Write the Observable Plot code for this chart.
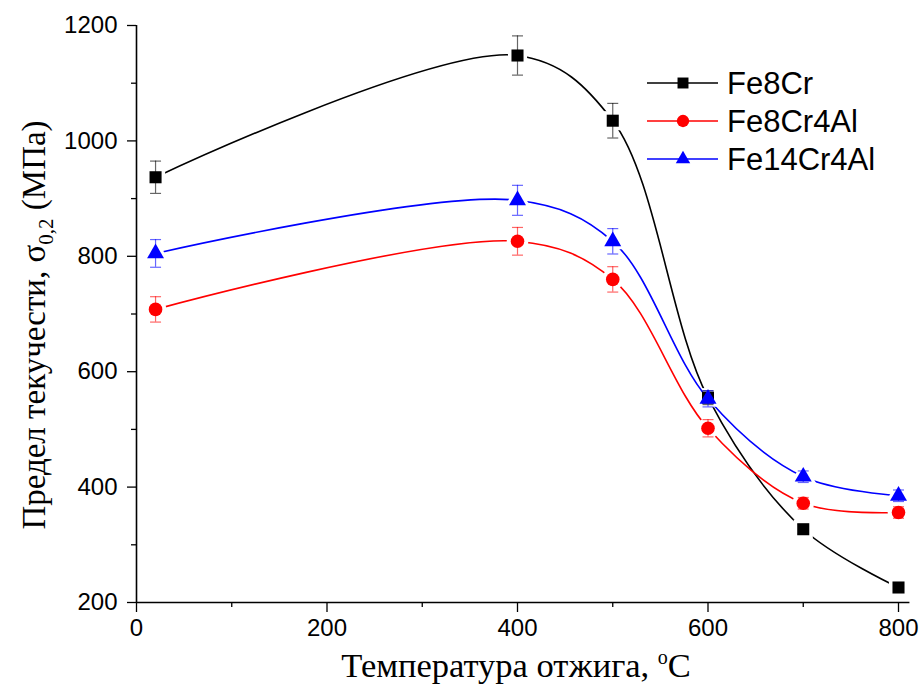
<!DOCTYPE html>
<html><head><meta charset="utf-8">
<script src="https://cdn.jsdelivr.net/npm/d3@7"></script>
<script src="https://cdn.jsdelivr.net/npm/@observablehq/plot@0.6"></script>
<style>
body{margin:0;background:#fff;}
#wrap{position:relative;width:921px;height:689px;}
</style></head><body><div id="wrap"></div>
<script>
// ---- data ----
const temps = [20, 400, 500, 600, 700, 800];
const seriesNames = ["Fe8Cr", "Fe8Cr4Al", "Fe14Cr4Al"];
const seriesColors = ["#000000", "#ff0000", "#0000ff"];
const seriesSymbols = ["square", "circle", "triangle"];
const fe8cr = [937, 1148, 1035, 555, 327, 226];
const fe8crErr = [28, 34, 30, 12, 8, 6];
const fe8cr4al = [708, 826, 760, 502, 372, 356];
const fe8cr4alErr = [22, 24, 22, 15, 10, 10];
const fe14cr4al = [805, 897, 826, 553, 418, 385];
const fe14cr4alErr = [24, 26, 22, 14, 10, 10];
const xMajor = [0, 200, 400, 600, 800];
const xMinor = [100, 300, 500, 700];
const yMajor = [200, 400, 600, 800, 1000, 1200];
const yMinor = [300, 500, 700, 900, 1100];

const values = [fe8cr, fe8cr4al, fe14cr4al];
const errs = [fe8crErr, fe8cr4alErr, fe14cr4alErr];
const rows = seriesNames.flatMap((s, k) => temps.map((t, i) => ({series: s, t, v: values[k][i], e: errs[k][i]})));

const capSymbol = {draw(ctx, size) { const r = Math.sqrt(size / Math.PI); ctx.moveTo(-r, 0); ctx.lineTo(r, 0); }};

const seriesMarks = seriesNames.flatMap((s, k) => {
  const d = rows.filter(r => r.series === s);
  const c = seriesColors[k];
  const rr = k === 2 ? 6.3 : 6.8;
  return [
    Plot.line(d, {x: "t", y: "v", curve: "catmull-rom", stroke: c, strokeWidth: 1.6}),
    Plot.dot(d, {x: "t", y: "v", r: rr + 4, fill: "white", symbol: seriesSymbols[k]}),
  ];
});
const seriesTop = seriesNames.flatMap((s, k) => {
  const d = rows.filter(r => r.series === s);
  const c = seriesColors[k];
  const rr = k === 2 ? 6.3 : 6.8;
  return [
    Plot.ruleX(d, {x: "t", y1: r => r.v - r.e, y2: r => r.v + r.e, stroke: c, strokeOpacity: 0.6, strokeWidth: 1.2}),
    Plot.dot(d, {x: "t", y: r => r.v + r.e, symbol: capSymbol, r: 5.5, stroke: c, strokeOpacity: 0.6, strokeWidth: 1.2}),
    Plot.dot(d, {x: "t", y: r => r.v - r.e, symbol: capSymbol, r: 5.5, stroke: c, strokeOpacity: 0.6, strokeWidth: 1.2}),
    Plot.dot(d, {x: "t", y: "v", r: rr, fill: c, stroke: "none", symbol: seriesSymbols[k]}),
  ];
});

const fmt = d3.format("d");
const plot = Plot.plot({
  width: 921, height: 689,
  marginLeft: 136, marginRight: 23, marginTop: 25, marginBottom: 87,
  x: {domain: [0, 800]},
  y: {domain: [200, 1200]},
  style: {fontFamily: "'Liberation Sans', Arial, sans-serif", fontSize: "24px", background: "white", color: "black", overflow: "visible"},
  marks: [
    Plot.axisX({ticks: xMinor, tickSize: 5, tickFormat: () => "", label: null, strokeWidth: 1.3}),
    Plot.axisX({ticks: xMajor, tickSize: 10, tickPadding: 6, tickFormat: fmt, label: null, strokeWidth: 1.3}),
    Plot.axisY({ticks: yMinor, tickSize: 5, tickFormat: () => "", label: null, strokeWidth: 1.3}),
    Plot.axisY({ticks: yMajor, tickSize: 9, tickPadding: 10, tickFormat: fmt, label: null, strokeWidth: 1.3}),
    ...seriesMarks,
    ...seriesTop,
    Plot.ruleX([0], {y1: 200, y2: 1200, stroke: "black", strokeWidth: 1.6}),
    Plot.ruleY([200], {x1: 0, x2: 812, stroke: "black", strokeWidth: 1.6, clip: false}),
  ]
});
document.getElementById("wrap").appendChild(plot);

const svg = d3.select(plot);
// enlarge the library's tick labels
svg.selectAll("text").style("font-size", "24px").style("font-family", "'Liberation Sans', Arial, sans-serif");

// y label
const yl = svg.append("text")
  .attr("transform", "translate(45,325) rotate(-90)")
  .attr("text-anchor", "middle")
  .style("font-family", "'Liberation Serif', 'Times New Roman', serif")
  .style("font-size", "33px").attr("fill", "black");
yl.append("tspan").text("Предел текучести, σ");
yl.append("tspan").attr("dy", 8).style("font-size", "21px").text("0,2");
yl.append("tspan").attr("dy", -8).text(" (МПа)");
// x label
const xl = svg.append("text")
  .attr("x", 516).attr("y", 677)
  .attr("text-anchor", "middle")
  .style("font-family", "'Liberation Serif', 'Times New Roman', serif")
  .style("font-size", "34.5px").attr("fill", "black");
xl.append("tspan").text("Температура отжига, ");
xl.append("tspan").attr("dy", -13).style("font-size", "20px").text("o");
xl.append("tspan").attr("dy", 13).text("C");

// legend
const lg = svg.append("g");
seriesNames.forEach((s, k) => {
  const y = 83 + k * 38;
  lg.append("line").attr("x1", 647).attr("x2", 718).attr("y1", y).attr("y2", y).attr("stroke", seriesColors[k]).attr("stroke-width", 1.6);
  const sym = k === 0 ? d3.symbolSquare : k === 1 ? d3.symbolCircle : d3.symbolTriangle;
  const sz = k === 2 ? 90 : 120;
  lg.append("path").attr("d", d3.symbol(sym, sz)()).attr("transform", `translate(683,${y})`).attr("fill", seriesColors[k]);
  lg.append("text").attr("x", 727).attr("y", y).attr("dy", "0.36em").attr("text-anchor", "start")
    .style("font-family", "'Liberation Sans', Arial, sans-serif").style("font-size", "31px").attr("fill", "black").text(s);
});
</script></body></html>
